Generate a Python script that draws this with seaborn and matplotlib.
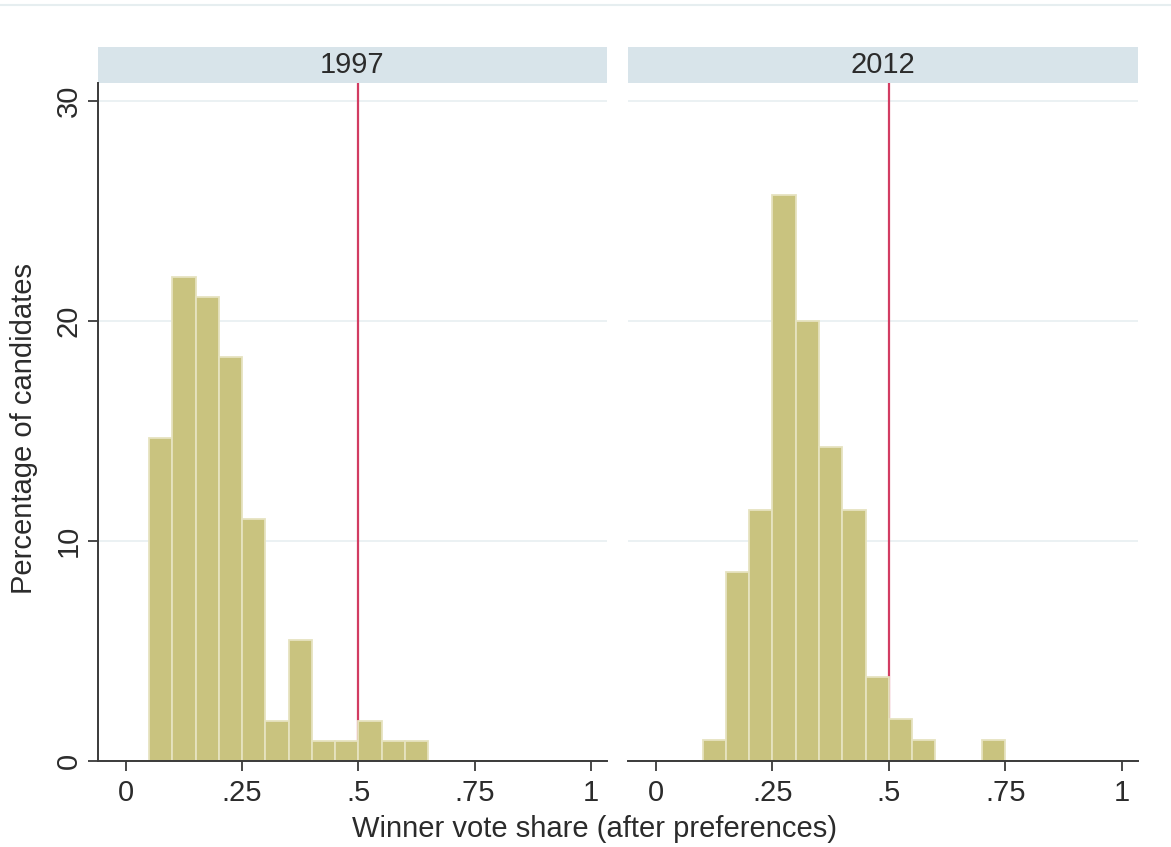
import pandas as pd
import matplotlib
matplotlib.use("Agg")
import matplotlib.pyplot as plt
import seaborn as sns
from matplotlib.lines import Line2D
from matplotlib.patches import Rectangle

# bin midpoints (width .05) and percentage of candidates
years = ["1997", "2012"]
share_1997 = [0.075, 0.125, 0.175, 0.225, 0.275, 0.325, 0.375, 0.425, 0.475, 0.525, 0.575, 0.625]
pct_1997 = [14.68, 22.02, 21.10, 18.35, 11.01, 1.83, 5.50, 0.92, 0.92, 1.83, 0.92, 0.92]
share_2012 = [0.125, 0.175, 0.225, 0.275, 0.325, 0.375, 0.425, 0.475, 0.525, 0.575, 0.725]
pct_2012 = [0.95, 8.57, 11.43, 25.71, 20.00, 14.29, 11.43, 3.81, 1.90, 0.95, 0.95]
majority_line = 0.5
x_ticks = [0, 0.25, 0.5, 0.75, 1]
x_ticklabels = ["0", ".25", ".5", ".75", "1"]
y_ticks = [0, 10, 20, 30]

sns.set_style("white")
plt.rcParams["font.family"] = ["Liberation Sans", "DejaVu Sans"]
fs = 21
txt = "#2b2b2b"

W, H = 1171, 847
fig, ax = plt.subplots(1, 2, figsize=(W / 100, H / 100), dpi=100)

# pixel boxes of the two panels
boxes = [(98, 607), (628, 1138)]
top_px, bot_px = 83, 761
for a, (x0, x1) in zip(ax, boxes):
    a.set_position([x0 / W, (H - bot_px) / H, (x1 - x0) / W, (bot_px - top_px) / H])

bar_col = "#c9c37f"
edge_col = "#e6e3c0"
line_col = "#d23c62"
grid_col = "#e7eff1"
strip_col = "#d8e4ea"

data = [(share_1997, pct_1997), (share_2012, pct_2012)]
for i, (a, (sx, py)) in enumerate(zip(ax, data)):
    df = pd.DataFrame({"share": sx, "pct": py})
    a.axvline(majority_line, color=line_col, lw=1.6, zorder=0.5)
    sns.histplot(data=df, x="share", weights="pct", binwidth=0.05, binrange=(0, 1),
                 ax=a, color=bar_col, edgecolor=edge_col, linewidth=1.3, alpha=1, zorder=1)
    a.set_xlim(-0.06, 1.035)
    a.set_ylim(0, 30.82)
    a.set_yticks(y_ticks)
    a.set_xticks(x_ticks)
    a.set_xticklabels(x_ticklabels)
    a.set_xlabel("")
    a.set_ylabel("")
    for y in y_ticks[1:]:
        a.axhline(y, color=grid_col, lw=1.2, zorder=0.2)
    a.spines[["top", "right"]].set_visible(False)
    a.spines["bottom"].set_color("#3a3a3a")
    a.spines["bottom"].set_linewidth(1.4)
    a.tick_params(axis="x", direction="out", length=7, width=1.3, color="#3a3a3a",
                  labelsize=fs, labelcolor=txt, pad=6, bottom=True)
    if i == 0:
        a.spines["left"].set_color("#3a3a3a")
        a.spines["left"].set_linewidth(1.4)
        a.tick_params(axis="y", direction="out", length=7, width=1.3, color="#3a3a3a",
                      labelsize=fs, labelcolor=txt, pad=4, left=True)
        for lab in a.get_yticklabels():
            lab.set_rotation(90)
            lab.set_va("center")
    else:
        a.spines["left"].set_visible(False)
        a.tick_params(axis="y", left=False, labelleft=False)

    # facet strip
    strip_h = (top_px - 47) / (bot_px - top_px)
    a.add_patch(Rectangle((0, 1.0), 1, strip_h, transform=a.transAxes,
                          facecolor=strip_col, edgecolor="none", clip_on=False))
    a.text(0.5, 1 + strip_h / 2, years[i], transform=a.transAxes, ha="center",
           va="center", fontsize=fs, color=txt)

fig.text(594 / W, (H - 829) / H, "Winner vote share (after preferences)",
         ha="center", va="center", fontsize=fs, color=txt)
fig.text(24 / W, (H - 428) / H, "Percentage of candidates", rotation=90,
         ha="center", va="center", fontsize=fs, color=txt)

# faint frame line at the very top
fig.add_artist(Line2D([0, 1], [(H - 5) / H] * 2, color="#e6eef0", lw=1.5))

fig.savefig("out.png", dpi=100)
